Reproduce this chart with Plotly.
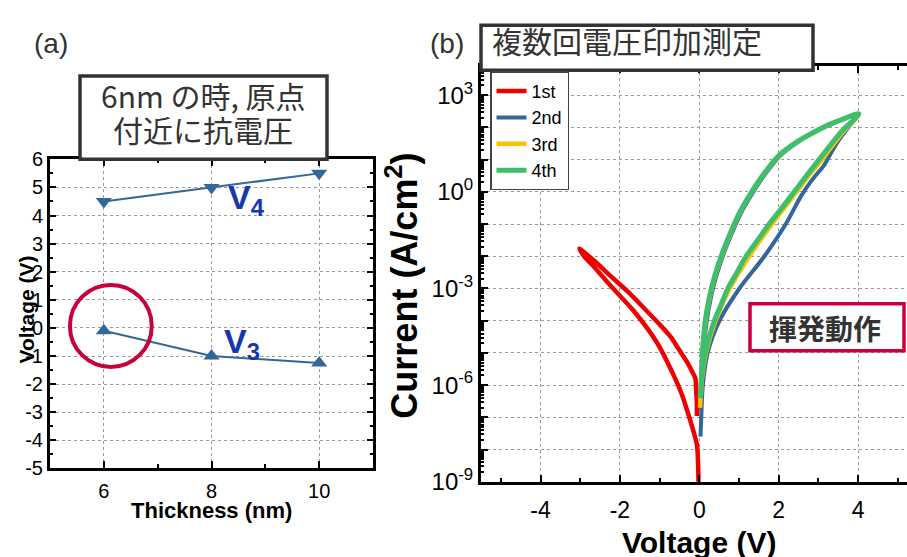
import plotly.graph_objects as go

W, H = 907, 557
FONT = "Liberation Sans, Arial, sans-serif"
JP = "Noto Sans CJK JP, Liberation Sans, sans-serif"

# ---- (a) coercive voltages versus film thickness ----
thickness_nm = [6, 8, 10]
v4_volt = [4.5, 5.0, 5.5]
v3_volt = [-0.1, -1.0, -1.25]
a_x_ticks = [6, 8, 10]
a_y_ticks = [-5, -4, -3, -2, -1, 0, 1, 2, 3, 4, 5, 6]
a_y_labels = ["-5", "-4", "-3", "-2", "-1", "0", "1", "2", "3", "4", "5", "6"]

# ---- (b) repeated J-V sweeps: voltage (V) and log10 of current density (A/cm^2) ----
v_1st = [-0.06, -0.06, -0.08, -0.10, -0.18, -0.31, -0.52, -0.73, -1.05, -1.40, -1.80,
         -2.24, -2.62, -2.88, -3.02, -2.90, -2.62, -2.24, -1.65, -1.06, -0.65, -0.45,
         -0.31, -0.14, -0.06, -0.03, -0.02, -0.01]
logj_1st = [-6.96, -6.57, -6.15, -5.78, -5.58, -5.28, -4.88, -4.49, -4.05, -3.60, -3.10,
            -2.61, -2.17, -1.90, -1.76, -2.00, -2.37, -2.91, -3.70, -4.69, -5.68, -6.25,
            -6.77, -7.46, -7.85, -8.45, -9.04, -9.60]

v_2nd = [0.03, 0.05, 0.09, 0.21, 0.51, 1.01, 1.64, 2.18, 2.56, 2.80, 2.98, 3.12, 3.25,
         3.40, 3.60, 3.82, 4.02, 3.52, 3.03, 2.53, 2.04, 1.69, 1.36, 1.04, 0.79, 0.59,
         0.42, 0.29, 0.19, 0.12, 0.08, 0.05, 0.04]
logj_2nd = [-7.60, -7.00, -6.00, -5.00, -4.00, -3.00, -2.00, -1.00, -0.14, 0.30, 0.58,
            0.78, 1.05, 1.38, 1.75, 2.10, 2.42, 2.20, 1.93, 1.58, 1.12, 0.60, 0.00, -0.68,
            -1.38, -2.00, -2.65, -3.30, -4.00, -4.80, -5.50, -6.10, -6.60]

v_3rd = [0.02, 0.05, 0.17, 0.41, 0.77, 1.26, 1.83, 2.42, 2.76, 3.12, 3.61, 4.02,
         3.50, 3.01, 2.51, 2.01, 1.66, 1.33, 1.01, 0.76, 0.56, 0.39, 0.26, 0.16, 0.10,
         0.07, 0.05, 0.03]
logj_3rd = [-6.70, -6.00, -5.00, -4.00, -3.00, -2.00, -1.00, -0.05, 0.50, 1.05, 1.84,
            2.42, 2.20, 1.93, 1.58, 1.12, 0.60, 0.00, -0.68, -1.38, -2.00, -2.65, -3.30,
            -4.00, -4.80, -5.50, -6.10, -6.50]

v_4th = [0.02, 0.05, 0.10, 0.15, 0.25, 0.38, 0.55, 0.72, 0.95, 1.18, 1.47, 1.76, 2.05,
         2.33, 2.70, 3.05, 3.56, 4.02, 3.50, 3.00, 2.50, 2.00, 1.65, 1.32, 1.00, 0.75,
         0.55, 0.38, 0.25, 0.15, 0.09, 0.06, 0.04, 0.03]
logj_4th = [-6.40, -5.90, -5.35, -5.00, -4.50, -4.00, -3.50, -3.00, -2.50, -2.00, -1.50,
            -1.00, -0.55, -0.10, 0.50, 1.05, 1.84, 2.42, 2.20, 1.93, 1.58, 1.12, 0.60,
            0.00, -0.68, -1.38, -2.00, -2.65, -3.30, -4.00, -4.80, -5.50, -6.10, -6.40]

sweeps = [
    ("1st", v_1st, logj_1st, "#EE0000", 4.5),
    ("2nd", v_2nd, logj_2nd, "#336699", 4.0),
    ("3rd", v_3rd, logj_3rd, "#FFC000", 4.5),
    ("4th", v_4th, logj_4th, "#3DBF6B", 5.0),
]

b_x_ticks = [-4, -2, 0, 2, 4]
b_x_labels = ["-4", "-2", "0", "2", "4"]
y_decades = list(range(-9, 4))
y_labels = {-9: "10<sup>-9</sup>", -6: "10<sup>-6</sup>", -3: "10<sup>-3</sup>",
            0: "10<sup>0</sup>", 3: "10<sup>3</sup>"}


def px(x):
    return x / W


def py(y):
    return 1 - y / H


fig = go.Figure()

line_blue = "#336699"
fig.add_trace(go.Scatter(x=thickness_nm, y=v4_volt, mode="lines+markers",
                         line=dict(color=line_blue, width=2),
                         marker=dict(symbol="triangle-down", size=14, color=line_blue),
                         xaxis="x", yaxis="y", showlegend=False))
fig.add_trace(go.Scatter(x=thickness_nm, y=v3_volt, mode="lines+markers",
                         line=dict(color=line_blue, width=2),
                         marker=dict(symbol="triangle-up", size=14, color=line_blue),
                         xaxis="x", yaxis="y", showlegend=False))

for name, v, lj, color, lw in sweeps:
    fig.add_trace(go.Scatter(x=v, y=[10 ** e for e in lj], mode="lines", name=name,
                             line=dict(color=color, width=lw, shape="spline",
                                       smoothing=0.9),
                             xaxis="x2", yaxis="y2"))

grid = dict(showgrid=True, gridcolor="#9a9a9a", griddash="dot", gridwidth=1)
axis_common = dict(showline=True, linecolor="black", linewidth=3, ticks="inside",
                   tickcolor="black", tickwidth=2, zeroline=False, **grid)

minor_vals = [m * 10 ** d for d in range(-9, 4) for m in range(2, 10)]

fig.update_layout(
    width=W, height=H, autosize=False,
    margin=dict(l=0, r=0, t=0, b=0),
    paper_bgcolor="white", plot_bgcolor="white",
    font=dict(family=FONT, color="black"),
    xaxis=dict(domain=[px(50), px(373)], range=[5, 11], tickmode="array",
               tickvals=a_x_ticks, ticklen=7, mirror="ticks", tickfont=dict(size=20),
               anchor="y", ticklabelstandoff=3,
               minor=dict(dtick=1, tick0=5, ticks="inside", ticklen=4, tickwidth=2,
                          showgrid=False),
               **axis_common),
    yaxis=dict(domain=[py(478), py(155)], range=[-5, 6], tickmode="array",
               tickvals=a_y_ticks, ticktext=a_y_labels,
               ticklen=6, mirror="ticks", tickfont=dict(size=20), anchor="x",
               minor=dict(dtick=0.5, tick0=0, ticks="inside", ticklen=3, tickwidth=1.5,
                          showgrid=False),
               **axis_common),
    xaxis2=dict(domain=[px(481), 1], range=[-5.5, 5.234], tickmode="array",
                tickvals=b_x_ticks, ticktext=b_x_labels,
                ticklen=7, mirror="ticks", tickfont=dict(size=23), anchor="y2",
                ticklabelstandoff=6,
                minor=dict(dtick=1, tick0=0, ticks="inside", ticklen=4, tickwidth=2,
                           showgrid=False),
                **axis_common),
    yaxis2=dict(domain=[py(492), py(57)], type="log", range=[-9, 3.92],
                tickmode="array", tickvals=[10 ** d for d in y_decades],
                ticktext=[y_labels.get(d, "") for d in y_decades],
                ticklen=7, mirror=False, tickfont=dict(size=24), anchor="x2",
                minor=dict(tickmode="array", tickvals=minor_vals, ticks="inside",
                           ticklen=3, tickwidth=1.5, showgrid=False),
                **axis_common),
    legend=dict(x=px(490), y=py(63), xanchor="left", yanchor="top",
                bgcolor="white", bordercolor="#444", borderwidth=1.5,
                font=dict(size=18, family=FONT)),
)

shapes = [
    # ring around the 6 nm point
    dict(type="circle", xref="x", yref="y", x0=5.37, x1=6.89, y0=-1.39, y1=1.53,
         line=dict(color="#C8003C", width=4)),
    # caption boxes
    dict(type="rect", xref="paper", yref="paper", x0=px(80), x1=px(327),
         y0=py(155), y1=py(68), line=dict(color="#333", width=3.5),
         fillcolor="white", layer="above"),
    dict(type="rect", xref="paper", yref="paper", x0=px(481), x1=px(813),
         y0=py(62), y1=py(15), line=dict(color="#333", width=3.5),
         fillcolor="white", layer="above"),
    dict(type="rect", xref="paper", yref="paper", x0=px(750), x1=px(904),
         y0=py(355), y1=py(306), line=dict(color="#C8003C", width=3.5),
         fillcolor="white", layer="above"),
]
fig.update_layout(shapes=shapes)

ann = []


def label(text, x, y, size, color="black", angle=0, family=FONT, xanchor="center",
          yanchor="middle"):
    ann.append(dict(text=text, x=px(x), y=py(y), xref="paper", yref="paper",
                    showarrow=False, textangle=angle, xanchor=xanchor, yanchor=yanchor,
                    font=dict(size=size, color=color, family=family)))


label("(a)", 51, 34, 28, "#333")
label("(b)", 447, 34, 28, "#333")
label("6nm の時, 原点", 203, 88, 30, "#333", family=JP)
label("付近に抗電圧", 203, 123, 30, "#333", family=JP)
label("複数回電圧印加測定", 490, 30, 30, "#333", family=JP, xanchor="left")
label("<b>揮発動作</b>", 825, 331, 28, "#333", family=JP)
label("<b>V<sub>4</sub></b>", 226, 197, 34, "#1538B0", xanchor="left")
label("<b>V<sub>3</sub></b>", 222, 347, 34, "#1538B0", xanchor="left")
label("<b>Thickness (nm)</b>", 211, 522, 22)
label("<b>Voltage (V)</b>", 27, 312, 21, angle=-90)
label("<b>Voltage (V)</b>", 699, 555, 30)
label("<b>Current (A/cm<sup>2</sup>)</b>", 402, 287, 36, angle=-90)

fig.update_layout(annotations=ann)

fig.write_html("out.html")
